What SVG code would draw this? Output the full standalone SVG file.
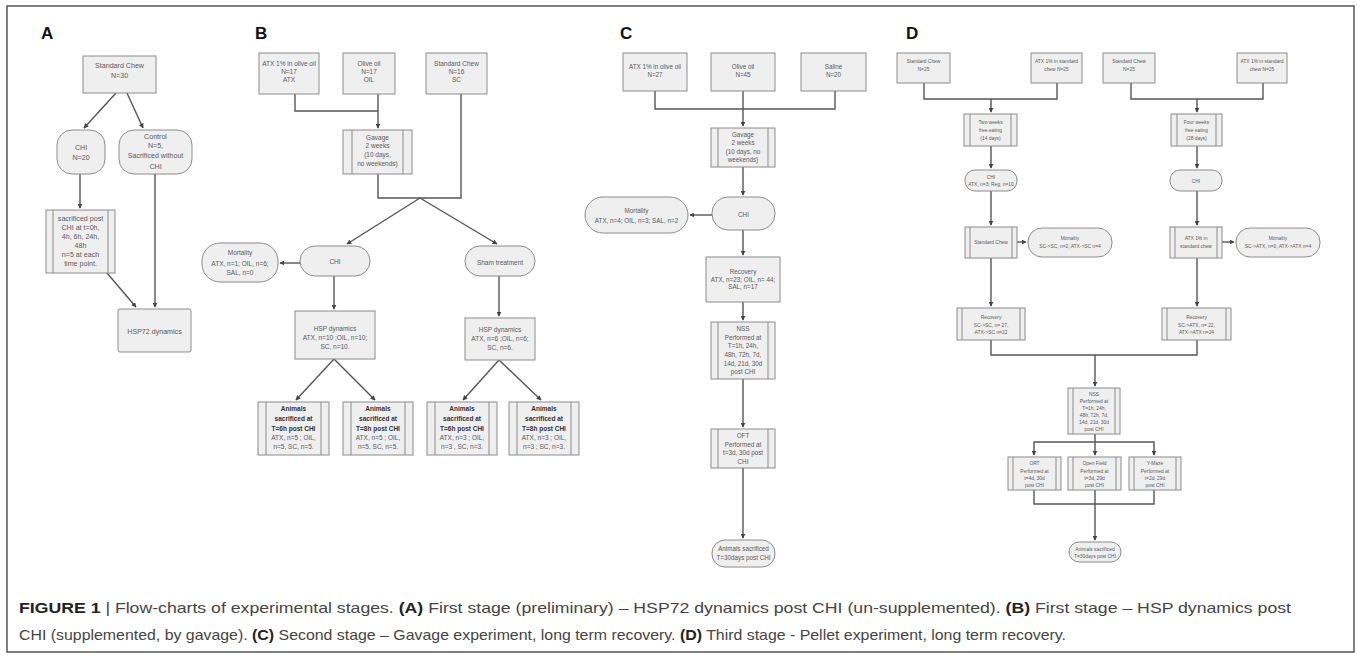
<svg xmlns="http://www.w3.org/2000/svg" width="1357" height="656" viewBox="0 0 1357 656">
<defs>
<marker id="ah" viewBox="0 0 8 8" refX="7" refY="4" markerWidth="5" markerHeight="5" orient="auto" markerUnits="userSpaceOnUse">
<path d="M0,0 L8,4 L0,8 z" fill="#444"/>
</marker>
<style>
.bx{fill:#efefef;stroke:#8c8c8c;stroke-width:1}
.il{stroke:#8c8c8c;stroke-width:1;fill:none}
.cn{fill:none;stroke:#555;stroke-width:1.4}
.ar{fill:none;stroke:#555;stroke-width:1.4;marker-end:url(#ah)}
text{font-family:"Liberation Sans",Arial,sans-serif;fill:#5a5a5a;text-anchor:middle}
.fa{font-size:7.1px}
.fb{font-size:6.5px}
.fc{font-size:6.3px}
.fd{font-size:4.9px}
.bd{font-weight:bold;fill:#333}
.lbl{font-size:17px;font-weight:bold;fill:#111;text-anchor:start}
.cap{font-size:15px;fill:#444;text-anchor:start}
.capb{font-weight:bold;fill:#222}
</style>
</defs>
<rect x="7" y="6" width="1347" height="646" fill="#fff" stroke="#555" stroke-width="1.5"/>

<!-- Panel labels -->
<text class="lbl" x="41" y="39">A</text>
<text class="lbl" x="255" y="39">B</text>
<text class="lbl" x="620" y="39">C</text>
<text class="lbl" x="906" y="39">D</text>

<!-- Connectors -->
<g id="connectors">
<!-- A -->
<path class="ar" d="M116,93 L84,128"/>
<path class="ar" d="M127,93 L143,128"/>
<path class="ar" d="M80,174 L80,208"/>
<path class="ar" d="M107,273 L136,307"/>
<path class="ar" d="M155,174 L155,307"/>
<!-- B -->
<path class="cn" d="M295,94 V111 H378"/>
<path class="ar" d="M378,94 V128"/>
<path class="cn" d="M378,174 V198 H461 V94"/>
<path class="ar" d="M420,198 L347,244"/>
<path class="ar" d="M420,198 L497,244"/>
<path class="ar" d="M300,263 L280,263"/>
<path class="ar" d="M334,276 V309"/>
<path class="ar" d="M499,276 V316"/>
<path class="ar" d="M334,359 L296,400"/>
<path class="ar" d="M334,359 L375,400"/>
<path class="ar" d="M499,360 L463,400"/>
<path class="ar" d="M499,360 L541,400"/>
<!-- C -->
<path class="cn" d="M655,91 V109 H835 V91"/>
<path class="ar" d="M743,91 V126"/>
<path class="ar" d="M743,167 V195"/>
<path class="ar" d="M712,215 L690,215"/>
<path class="ar" d="M743,230 V255"/>
<path class="ar" d="M743,302 V320"/>
<path class="ar" d="M743,379 V427"/>
<path class="ar" d="M743,468 V538"/>
<!-- D -->
<path class="cn" d="M924,83 V99 H1057 V83"/>
<path class="ar" d="M991,99 V112"/>
<path class="cn" d="M1131,83 V99 H1263 V83"/>
<path class="ar" d="M1197,99 V112"/>
<path class="ar" d="M991,146 V168"/>
<path class="ar" d="M1197,146 V168"/>
<path class="ar" d="M991,191 V225"/>
<path class="ar" d="M1197,191 V225"/>
<path class="ar" d="M1017,242 H1026"/>
<path class="ar" d="M1222,242 H1234"/>
<path class="ar" d="M991,258 V306"/>
<path class="ar" d="M1197,258 V306"/>
<path class="cn" d="M991,340 V355 H1197 V340"/>
<path class="ar" d="M1095,355 V386"/>
<path class="ar" d="M1095,434 V455"/>
<path class="ar" d="M1095,442 H1034 V455"/>
<path class="ar" d="M1095,442 H1154 V455"/>
<path class="cn" d="M1034,490 V504 H1154 V490"/>
<path class="ar" d="M1095,490 V540"/>
</g>

<!-- Panel A nodes -->
<g id="a-std"><rect class="bx" x="83" y="56" width="73" height="37"/><text class="fa" x="119.5" y="67.5">Standard Chew</text><text class="fa" x="119.5" y="77.5">N=30</text></g>
<g id="a-chi"><rect class="bx" x="57" y="130" width="48" height="44" rx="15"/><text class="fa" x="81" y="149.5">CHI</text><text class="fa" x="81" y="159.5">N=20</text></g>
<g id="a-control"><rect class="bx" x="119" y="130" width="73" height="44" rx="15"/><text class="fa" x="155.5" y="138.5">Control</text><text class="fa" x="155.5" y="147.5">N=5,</text><text class="fa" x="155.5" y="158">Sacrificed without</text><text class="fa" x="155.5" y="169">CHI</text></g>
<g id="a-sac"><rect class="bx" x="46" y="210" width="69" height="63"/><line class="il" x1="53" y1="210" x2="53" y2="273"/><line class="il" x1="108" y1="210" x2="108" y2="273"/>
<text class="fa" x="80.5" y="220.5">sacrificed post</text><text class="fa" x="80.5" y="229.5">CHI at t=0h,</text><text class="fa" x="80.5" y="238.5">4h, 6h, 24h,</text><text class="fa" x="80.5" y="247.5">48h</text><text class="fa" x="80.5" y="256.5">n=5 at each</text><text class="fa" x="80.5" y="265.5">time point.</text></g>
<g id="a-hsp72"><rect class="bx" x="118" y="309" width="73" height="43" rx="2"/><text class="fa" x="154.5" y="333.5">HSP72 dynamics</text></g>

<!-- Panel B nodes -->
<g id="b-atx"><rect class="bx" x="259" y="53" width="60" height="41"/><text class="fb" x="289" y="66">ATX 1% in olive oil</text><text class="fb" x="289" y="74">N=17</text><text class="fb" x="289" y="82">ATX</text></g>
<g id="b-oil"><rect class="bx" x="343" y="53" width="52" height="41"/><text class="fb" x="369" y="66">Olive oil</text><text class="fb" x="369" y="74">N=17</text><text class="fb" x="369" y="82">OIL</text></g>
<g id="b-sc"><rect class="bx" x="426" y="53" width="61" height="41"/><text class="fb" x="456.5" y="66">Standard Chew</text><text class="fb" x="456.5" y="74">N=16</text><text class="fb" x="456.5" y="82">SC</text></g>
<g id="b-gavage"><rect class="bx" x="343" y="130" width="69" height="44"/><line class="il" x1="352" y1="130" x2="352" y2="174"/><line class="il" x1="403" y1="130" x2="403" y2="174"/>
<text class="fb" x="377.5" y="140">Gavage</text><text class="fb" x="377.5" y="148">2 weeks</text><text class="fb" x="377.5" y="157">(10 days,</text><text class="fb" x="377.5" y="166">no weekends)</text></g>
<g id="b-mort"><rect class="bx" x="202" y="243" width="76" height="39" rx="18"/><text class="fb" x="240" y="255">Mortality</text><text class="fb" x="240" y="265.5">ATX, n=1; OIL, n=6;</text><text class="fb" x="240" y="275">SAL, n=0</text></g>
<g id="b-chi"><rect class="bx" x="300" y="246" width="70" height="30" rx="15"/><text class="fb" x="335" y="264">CHI</text></g>
<g id="b-sham"><rect class="bx" x="465" y="246" width="70" height="30" rx="15"/><text class="fb" x="500" y="265">Sham treatment</text></g>
<g id="b-hsp1"><rect class="bx" x="295" y="311" width="80" height="48"/><text class="fb" x="335" y="331">HSP dynamics</text><text class="fb" x="335" y="340">ATX, n=10 ;OIL, n=10;</text><text class="fb" x="335" y="349">SC, n=10.</text></g>
<g id="b-hsp2"><rect class="bx" x="465" y="318" width="70" height="42"/><text class="fb" x="500" y="332">HSP dynamics</text><text class="fb" x="500" y="341">ATX, n=6 ;OIL, n=6;</text><text class="fb" x="500" y="350">SC, n=6.</text></g>
<g id="b-an1"><rect class="bx" x="258" y="402" width="71" height="53"/><line class="il" x1="266" y1="402" x2="266" y2="455"/><line class="il" x1="321" y1="402" x2="321" y2="455"/>
<text class="fb bd" x="293.5" y="411">Animals</text><text class="fb bd" x="293.5" y="421">sacrificed at</text><text class="fb bd" x="293.5" y="431">T=6h post CHI</text><text class="fb" x="293.5" y="440">ATX, n=5 ; OIL,</text><text class="fb" x="293.5" y="449">n=5, SC, n=5.</text></g>
<g id="b-an2"><rect class="bx" x="343" y="402" width="70" height="53"/><line class="il" x1="351" y1="402" x2="351" y2="455"/><line class="il" x1="405" y1="402" x2="405" y2="455"/>
<text class="fb bd" x="378" y="411">Animals</text><text class="fb bd" x="378" y="421">sacrificed at</text><text class="fb bd" x="378" y="431">T=8h post CHI</text><text class="fb" x="378" y="440">ATX, n=5 ; OIL,</text><text class="fb" x="378" y="449">n=5, SC, n=5.</text></g>
<g id="b-an3"><rect class="bx" x="427" y="402" width="70" height="53"/><line class="il" x1="435" y1="402" x2="435" y2="455"/><line class="il" x1="489" y1="402" x2="489" y2="455"/>
<text class="fb bd" x="462" y="411">Animals</text><text class="fb bd" x="462" y="421">sacrificed at</text><text class="fb bd" x="462" y="431">T=6h post CHI</text><text class="fb" x="462" y="440">ATX, n=3 ; OIL,</text><text class="fb" x="462" y="449">n=3 , SC, n=3.</text></g>
<g id="b-an4"><rect class="bx" x="509" y="402" width="70" height="53"/><line class="il" x1="517" y1="402" x2="517" y2="455"/><line class="il" x1="571" y1="402" x2="571" y2="455"/>
<text class="fb bd" x="544" y="411">Animals</text><text class="fb bd" x="544" y="421">sacrificed at</text><text class="fb bd" x="544" y="431">T=8h post CHI</text><text class="fb" x="544" y="440">ATX, n=3 ; OIL,</text><text class="fb" x="544" y="449">n=3 ; SC, n=3.</text></g>

<!-- Panel C nodes -->
<g id="c-atx"><rect class="bx" x="623" y="53" width="64" height="38"/><text class="fc" x="655" y="69">ATX 1% in olive oil</text><text class="fc" x="655" y="77">N=27</text></g>
<g id="c-oil"><rect class="bx" x="711" y="53" width="64" height="38"/><text class="fc" x="743" y="69">Olive oil</text><text class="fc" x="743" y="77">N=45</text></g>
<g id="c-sal"><rect class="bx" x="801" y="53" width="65" height="38"/><text class="fc" x="833.5" y="69">Saline</text><text class="fc" x="833.5" y="77">N=20</text></g>
<g id="c-gavage"><rect class="bx" x="711" y="128" width="64" height="39"/><line class="il" x1="718" y1="128" x2="718" y2="167"/><line class="il" x1="768" y1="128" x2="768" y2="167"/>
<text class="fc" x="743" y="137">Gavage</text><text class="fc" x="743" y="145">2 weeks</text><text class="fc" x="743" y="154">(10 days, no</text><text class="fc" x="743" y="162">weekends)</text></g>
<g id="c-chi"><rect class="bx" x="712" y="197" width="63" height="33" rx="16"/><text class="fc" x="743.5" y="217">CHI</text></g>
<g id="c-mort"><rect class="bx" x="585" y="197" width="103" height="36" rx="18"/><text class="fc" x="636.5" y="213">Mortality</text><text class="fc" x="636.5" y="223">ATX, n=4; OIL, n=3; SAL, n=2</text></g>
<g id="c-rec"><rect class="bx" x="706" y="257" width="74" height="45"/><text class="fc" x="743" y="274">Recovery</text><text class="fc" x="743" y="281.5">ATX, n=23; OIL, n= 44;</text><text class="fc" x="743" y="289">SAL, n=17</text></g>
<g id="c-nss"><rect class="bx" x="711" y="322" width="64" height="57"/><line class="il" x1="718" y1="322" x2="718" y2="379"/><line class="il" x1="768" y1="322" x2="768" y2="379"/>
<text class="fc" x="743" y="331">NSS</text><text class="fc" x="743" y="339.5">Performed at</text><text class="fc" x="743" y="348">T=1h, 24h,</text><text class="fc" x="743" y="357">48h, 72h, 7d,</text><text class="fc" x="743" y="365.5">14d, 21d, 30d</text><text class="fc" x="743" y="373.5">post CHI</text></g>
<g id="c-oft"><rect class="bx" x="711" y="429" width="64" height="39"/><line class="il" x1="718" y1="429" x2="718" y2="468"/><line class="il" x1="768" y1="429" x2="768" y2="468"/>
<text class="fc" x="743" y="438">OFT</text><text class="fc" x="743" y="446.5">Performed at</text><text class="fc" x="743" y="455">t=3d, 30d post</text><text class="fc" x="743" y="464">CHI</text></g>
<g id="c-end"><rect class="bx" x="712" y="540" width="63" height="27" rx="13"/><text class="fc" x="743.5" y="550.5">Animals sacrificed</text><text class="fc" x="743.5" y="559.5">T=30days post CHI</text></g>

<!-- Panel D nodes -->
<g id="d-sc1"><rect class="bx" x="897" y="53" width="53" height="30"/><text class="fd" x="923.5" y="63">Standard Chew</text><text class="fd" x="923.5" y="70.5">N=25</text></g>
<g id="d-atx1"><rect class="bx" x="1031" y="53" width="51" height="30"/><text class="fd" x="1056.5" y="63">ATX 1% in standard</text><text class="fd" x="1056.5" y="70.5">chew N=25</text></g>
<g id="d-sc2"><rect class="bx" x="1103" y="53" width="52" height="30"/><text class="fd" x="1129" y="63">Standard Chew</text><text class="fd" x="1129" y="70.5">N=25</text></g>
<g id="d-atx2"><rect class="bx" x="1237" y="53" width="50" height="30"/><text class="fd" x="1262" y="63">ATX 1% in standard</text><text class="fd" x="1262" y="70.5">chew N=25</text></g>
<g id="d-two"><rect class="bx" x="964" y="114" width="53" height="32"/><line class="il" x1="970" y1="114" x2="970" y2="146"/><line class="il" x1="1011" y1="114" x2="1011" y2="146"/>
<text class="fd" x="990.5" y="124">Two weeks</text><text class="fd" x="990.5" y="132">free eating</text><text class="fd" x="990.5" y="139.5">(14 days)</text></g>
<g id="d-four"><rect class="bx" x="1171" y="114" width="51" height="32"/><line class="il" x1="1177" y1="114" x2="1177" y2="146"/><line class="il" x1="1216" y1="114" x2="1216" y2="146"/>
<text class="fd" x="1196.5" y="124">Four weeks</text><text class="fd" x="1196.5" y="132">free eating</text><text class="fd" x="1196.5" y="139.5">(28 days)</text></g>
<g id="d-chi1"><rect class="bx" x="965" y="170" width="52" height="21" rx="10"/><text class="fd" x="991" y="178.5">CHI</text><text class="fd" x="991" y="186">ATX, n=3; Reg, n=10</text></g>
<g id="d-chi2"><rect class="bx" x="1170" y="170" width="52" height="21" rx="10"/><text class="fd" x="1196" y="182.5">CHI</text></g>
<g id="d-scb"><rect class="bx" x="965" y="227" width="52" height="31"/><line class="il" x1="970" y1="227" x2="970" y2="258"/><line class="il" x1="1012" y1="227" x2="1012" y2="258"/>
<text class="fd" x="991" y="244">Standard Chew</text></g>
<g id="d-atxb"><rect class="bx" x="1170" y="227" width="52" height="31"/><line class="il" x1="1175" y1="227" x2="1175" y2="258"/><line class="il" x1="1217" y1="227" x2="1217" y2="258"/>
<text class="fd" x="1196" y="240">ATX 1% in</text><text class="fd" x="1196" y="247.5">standard chew</text></g>
<g id="d-mort1"><rect class="bx" x="1028" y="228" width="84" height="29" rx="14"/><text class="fd" x="1070" y="239.5">Mortality</text><text class="fd" x="1070" y="248">SC-&gt;SC, n=2, ATX-&gt;SC n=4</text></g>
<g id="d-mort2"><rect class="bx" x="1236" y="228" width="84" height="29" rx="14"/><text class="fd" x="1278" y="239.5">Mortality</text><text class="fd" x="1278" y="248">SC-&gt;ATX, n=0, ATX-&gt;ATX n=4</text></g>
<g id="d-rec1"><rect class="bx" x="957" y="308" width="68" height="32"/><line class="il" x1="962" y1="308" x2="962" y2="340"/><line class="il" x1="1020" y1="308" x2="1020" y2="340"/>
<text class="fd" x="991" y="319">Recovery</text><text class="fd" x="991" y="326.5">SC-&gt;SC, n= 27,</text><text class="fd" x="991" y="333.5">ATX-&gt;SC n=22</text></g>
<g id="d-rec2"><rect class="bx" x="1162" y="308" width="69" height="32"/><line class="il" x1="1167" y1="308" x2="1167" y2="340"/><line class="il" x1="1226" y1="308" x2="1226" y2="340"/>
<text class="fd" x="1196.5" y="319">Recovery</text><text class="fd" x="1196.5" y="326.5">SC-&gt;ATX, n= 22,</text><text class="fd" x="1196.5" y="333.5">ATX-&gt;ATX n=24</text></g>
<g id="d-nss"><rect class="bx" x="1068" y="388" width="52" height="46"/><line class="il" x1="1073" y1="388" x2="1073" y2="434"/><line class="il" x1="1115" y1="388" x2="1115" y2="434"/>
<text class="fd" x="1094" y="395.5">NSS</text><text class="fd" x="1094" y="402.5">Performed at</text><text class="fd" x="1094" y="409.5">T=1h, 24h,</text><text class="fd" x="1094" y="416.5">48h, 72h, 7d,</text><text class="fd" x="1094" y="423.5">14d, 21d, 30d</text><text class="fd" x="1094" y="430.5">post CHI</text></g>
<g id="d-ort"><rect class="bx" x="1008" y="457" width="53" height="33"/><line class="il" x1="1013" y1="457" x2="1013" y2="490"/><line class="il" x1="1056" y1="457" x2="1056" y2="490"/>
<text class="fd" x="1034.5" y="465">ORT</text><text class="fd" x="1034.5" y="472.5">Performed at</text><text class="fd" x="1034.5" y="480">t=4d, 30d</text><text class="fd" x="1034.5" y="487">post CHI</text></g>
<g id="d-open"><rect class="bx" x="1068" y="457" width="53" height="33"/><line class="il" x1="1073" y1="457" x2="1073" y2="490"/><line class="il" x1="1116" y1="457" x2="1116" y2="490"/>
<text class="fd" x="1094.5" y="465">Open Field</text><text class="fd" x="1094.5" y="472.5">Performed at</text><text class="fd" x="1094.5" y="480">t=3d, 29d</text><text class="fd" x="1094.5" y="487">post CHI</text></g>
<g id="d-ymaze"><rect class="bx" x="1129" y="457" width="52" height="33"/><line class="il" x1="1134" y1="457" x2="1134" y2="490"/><line class="il" x1="1176" y1="457" x2="1176" y2="490"/>
<text class="fd" x="1155" y="465">Y-Maze</text><text class="fd" x="1155" y="472.5">Performed at</text><text class="fd" x="1155" y="480">t=2d, 29d</text><text class="fd" x="1155" y="487">post CHI</text></g>
<g id="d-end"><rect class="bx" x="1069" y="542" width="52" height="20" rx="10"/><text class="fd" x="1095" y="550.5">Animals sacrificed</text><text class="fd" x="1095" y="558">T=30days post CHI</text></g>

<!-- Caption -->
<text class="cap" x="19" y="613" textLength="1272" lengthAdjust="spacingAndGlyphs"><tspan class="capb">FIGURE 1</tspan> | Flow-charts of experimental stages. <tspan class="capb">(A)</tspan> First stage (preliminary) – HSP72 dynamics post CHI (un-supplemented). <tspan class="capb">(B)</tspan> First stage – HSP dynamics post</text>
<text class="cap" x="19" y="640" textLength="1047" lengthAdjust="spacingAndGlyphs">CHI (supplemented, by gavage). <tspan class="capb">(C)</tspan> Second stage – Gavage experiment, long term recovery. <tspan class="capb">(D)</tspan> Third stage - Pellet experiment, long term recovery.</text>
</svg>
